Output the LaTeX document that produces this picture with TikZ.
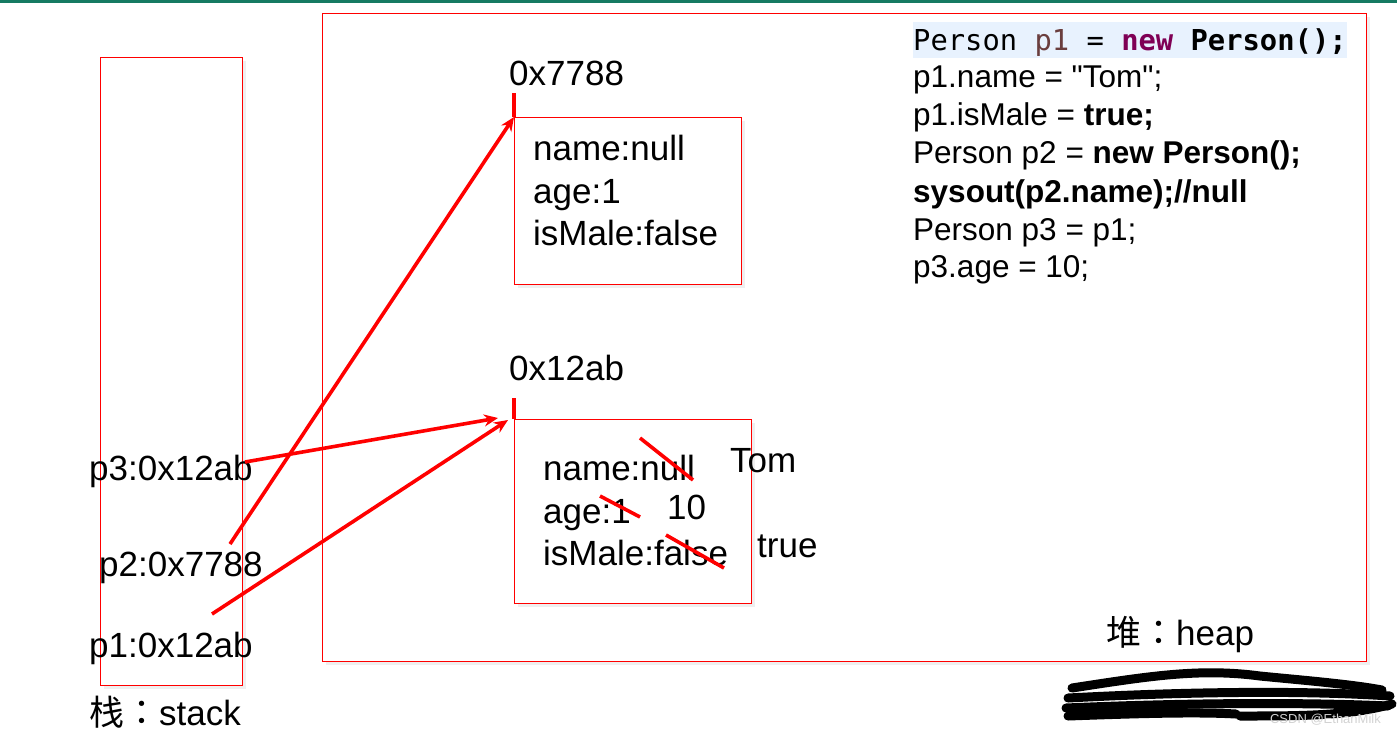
\documentclass[tikz,border=0pt]{standalone}
\usepackage{fontspec}
\setmainfont{Liberation Sans}[Ligatures=TeXOff]
\newfontfamily\cjk{Noto Sans CJK SC}
\newfontfamily\cjkcolon{Noto Sans CJK TC}
\newfontfamily\codemono{DejaVu Sans Mono}
\usetikzlibrary{arrows.meta,shadows}
\definecolor{topgreen}{RGB}{22,122,98}
\definecolor{hlblue}{RGB}{232,242,254}
\definecolor{varbrown}{RGB}{106,62,62}
\definecolor{kwpurple}{RGB}{127,0,85}
\definecolor{wmgray}{RGB}{210,210,210}
\tikzset{
  frame/.style={draw=red, line width=1.2pt, fill=white, drop shadow={opacity=0.12, shadow xshift=3pt, shadow yshift=-3pt}},
  objbox/.style={frame, anchor=north west, inner sep=0pt},
  lbl/.style={anchor=base west, inner sep=0pt, font=\fontsize{35}{42}\selectfont},
  codeline/.style={anchor=base west, inner sep=0pt, font=\fontsize{31.5}{38}\selectfont},
  ptr/.style={draw=red, line width=3.6pt, -{Stealth[length=14pt,width=12pt]}},
  tick/.style={draw=red, line width=3.6pt},
  strike/.style={draw=red, line width=3.6pt},
  scribble/.style={draw=black, line width=9pt, line cap=round, line join=round}
}
\begin{document}
\begin{tikzpicture}[x=1pt,y=-1pt]
\useasboundingbox (0,0) rectangle (1397,734);
\fill[white] (0,0) rectangle (1397,734);
\fill[topgreen] (0,0) rectangle (1397,3);

% stack and heap frames
\node[frame, anchor=north west, minimum width=142pt, minimum height=628pt, inner sep=0pt] (stack) at (100,57) {};
\node[frame, anchor=north west, minimum width=1044pt, minimum height=648pt, inner sep=0pt] (heap) at (322,13) {};

% objects
\node[objbox, minimum width=227pt, minimum height=167pt] (o1) at (514,117) {};
\node[objbox, minimum width=237pt, minimum height=184pt] (o2) at (514,419) {};

% code
\fill[hlblue] (913,22) rectangle (1347,58);
\node[anchor=base west, inner sep=0pt, font=\codemono\fontsize{28.8}{38}\selectfont] (c1) at (913,50)
  {Person \textcolor{varbrown}{p1} = \textbf{\textcolor{kwpurple}{new}} \textbf{Person();}};
\node[codeline] (c2) at (913,87) {p1.name = "Tom";};
\node[codeline] (c3) at (913,125) {p1.isMale = \textbf{true;}};
\node[codeline] (c4) at (913,163) {Person p2 = \textbf{new Person();}};
\node[codeline] (c5) at (913,202) {\textbf{sysout(p2.name);//null}};
\node[codeline] (c6) at (913,240) {Person p3 = p1;};
\node[codeline] (c7) at (913,277) {p3.age = 10;};

% addresses
\node[lbl] (a1) at (509,85) {0x7788};
\node[lbl] (a2) at (509,380) {0x12ab};
\coordinate (t1) at (514,93);
\coordinate (t2) at (514,398);
\draw[tick] (t1) -- (o1.north west);
\draw[tick] (t2) -- (o2.north west);

% object 1 fields
\node[lbl] (f11) at (533,160) {name:null};
\node[lbl] (f12) at (533,203) {age:1};
\node[lbl] (f13) at (533,245) {isMale:false};

% object 2 fields
\node[lbl] (f21) at (543,480) {name:null};
\node[lbl] (f22) at (543,523) {age:1};
\node[lbl] (f23) at (543,565) {isMale:false};
\node[lbl] (v1) at (730,472) {Tom};
\node[lbl] (v2) at (667,519) {10};
\node[lbl] (v3) at (757,557) {true};
\coordinate (s1a) at (640,438); \coordinate (s1b) at (693,480);
\coordinate (s2a) at (600,496); \coordinate (s2b) at (640,517);
\coordinate (s3a) at (666,535); \coordinate (s3b) at (724,568);
\draw[strike] (s1a) -- (s1b);
\draw[strike] (s2a) -- (s2b);
\draw[strike] (s3a) -- (s3b);

% stack variables
\node[lbl] (p3) at (89,480) {p3:0x12ab};
\node[lbl] (p2) at (99,576) {p2:0x7788};
\node[lbl] (p1) at (89,657) {p1:0x12ab};
\node[lbl] (stk) at (89,725) {{\cjk 栈}{\cjkcolon ：}stack};
\node[lbl] (hp) at (1106,645) {{\cjk 堆}{\cjkcolon ：}heap};

% pointers
\coordinate (p3s) at (245,462);
\coordinate (p2s) at (230,544);
\coordinate (p1s) at (212,614);
\coordinate (p3e) at (498,418);
\coordinate (p1e) at (508,420);
\draw[ptr] (p3s) -- (p3e);
\draw[ptr] (p2s) -- (o1.north west);
\draw[ptr] (p1s) -- (p1e);

% redaction scribble
\draw[scribble] (1072,688) .. controls (1150,676) and (1200,668) .. (1260,676) .. controls (1300,680) and (1350,684) .. (1382,690);
\draw[scribble] (1068,698) .. controls (1180,692) and (1300,690) .. (1390,696);
\draw[scribble] (1066,708) .. controls (1180,703) and (1300,702) .. (1388,706);
\draw[scribble] (1068,716) .. controls (1150,713) and (1200,712) .. (1236,714);
\draw[scribble] (1240,716) .. controls (1300,716) and (1350,716) .. (1392,704);
\node[anchor=base east, inner sep=0pt, text=wmgray, font=\fontsize{13}{15}\selectfont] (wm) at (1381,723) {CSDN @EthanMilk};
\end{tikzpicture}
\end{document}
